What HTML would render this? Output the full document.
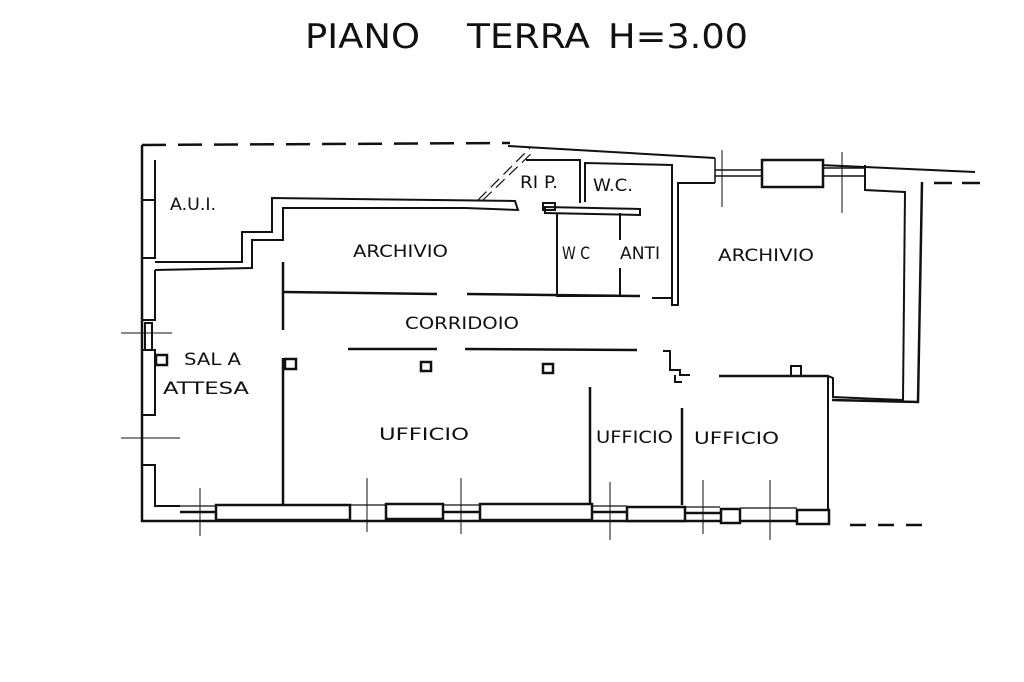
<!DOCTYPE html>
<html><head><meta charset="utf-8"><style>
html,body{margin:0;padding:0;background:#fff;width:1024px;height:682px;overflow:hidden}
svg{display:block}
text{font-family:"DejaVu Sans","Liberation Sans",sans-serif;fill:#111}
</style></head><body>
<svg width="1024" height="682" viewBox="0 0 1024 682" xmlns="http://www.w3.org/2000/svg">
<g font-size="34">
<text x="305" y="48" textLength="115" lengthAdjust="spacingAndGlyphs">PIANO</text>
<text x="467" y="48" textLength="123" lengthAdjust="spacingAndGlyphs">TERRA</text>
<text x="608" y="48" textLength="140" lengthAdjust="spacingAndGlyphs">H=3.00</text>
</g>
<g fill="none" stroke="#111" stroke-width="2">
<path d="M142 145 L510 143" stroke-dasharray="24 12" stroke-width="2.5"/>
<path d="M508 146 L715 158 M820 165 L975 172" stroke-width="2"/>
<path d="M934 183 L980 183" stroke-dasharray="18 10" stroke-width="2.5"/>
<path d="M850 525 L925 525" stroke-dasharray="16 12" stroke-width="2.5"/>
<!-- left outer wall -->
<path d="M142 145 L142 521 L830 521" stroke-width="2.5"/>
<path d="M155 160 L155 258 L142 258 M142 200 L155 200 M155 270 L155 320 L142 320 M142 350 L155 350 L155 415 L142 415 M142 465 L155 465 L155 506 L180 506"/>
<rect x="145" y="323" width="7" height="27" stroke-width="2"/>
<!-- AUI / archivio wall -->
<path d="M155 262 L242 262 L242 232 L272 232 L272 198 L515 201 L518 210 L465 208 L283 208 L283 240 L252 240 L252 268 L155 270"/>
<path d="M478 200 L530 148 M483 200 L535 150" stroke-width="1.2" stroke-dasharray="12 6"/>
<!-- bottom wall inner -->
<path d="M155 506 L215 506 M350 505 L385 505 M443 505 L480 505 M592 506 L627 506 M685 507 L720 507 M740 508 L797 508" stroke-width="1.2"/>
<path d="M283 505 L350 505 M592 505 L590 505" stroke-width="2"/>
<path d="M180 512 L215 512 M443 512 L480 512 M592 512 L627 512 M685 513 L720 513" stroke-width="2.5"/>
<rect x="216" y="505" width="134" height="15" stroke-width="2.5" fill="#fff"/>
<rect x="386" y="504" width="57" height="15" stroke-width="2.5" fill="#fff"/>
<rect x="480" y="504" width="112" height="16" stroke-width="2.5" fill="#fff"/>
<rect x="627" y="507" width="58" height="14" stroke-width="2.5" fill="#fff"/>
<rect x="721" y="509" width="19" height="14" stroke-width="2.5" fill="#fff"/>
<rect x="797" y="510" width="32" height="14" stroke-width="2.5" fill="#fff"/>
<path d="M200 488 L200 536 M367 478 L367 532 M461 478 L461 534 M610 482 L610 540 M703 480 L703 534 M770 480 L770 540 M121 333 L172 333 M121 438 L180 438 M722 150 L722 207 M842 152 L842 213" stroke-width="1"/>
<!-- partitions -->
<path d="M283 262 L283 330 M283 358 L283 505" stroke-width="2.5"/>
<path d="M284 292 L437 294 M467 294 L640 296" stroke-width="2.5"/>
<path d="M348 349 L437 349 M465 349 L637 350" stroke-width="2.5"/>
<rect x="285" y="359" width="11" height="10" stroke-width="2.5"/>
<rect x="156" y="355" width="11" height="10" stroke-width="2.5"/>
<rect x="421" y="362" width="10" height="9" stroke-width="2.5"/>
<rect x="543" y="364" width="10" height="9" stroke-width="2.5"/>
<!-- WC / RIP -->
<path d="M543 203 L555 203 L555 210 L543 210 Z"/>
<path d="M545 207 L640 209 L640 215 L545 213 Z" stroke-width="2"/>
<path d="M580 203 L580 160 L526 160 M585 202 L585 163 L672 165 L672 183"/>
<path d="M557 213 L557 296 L620 296 L620 268 M620 213 L620 240"/>
<path d="M652 298 L672 298 L672 305 L678 305 L678 183 L715 183 M672 183 L672 298"/>
<!-- top right windows -->
<path d="M715 158 L715 183 M715 170 L762 170 M715 176 L762 176 M823 168 L865 168 M823 176 L865 176" stroke-width="1.5"/>
<rect x="762" y="160" width="61" height="27" stroke-width="2.5" fill="#fff"/>
<path d="M865 165 L865 190 L905 192 L903 400 L833 397 L833 378 L828 376 L828 510"/>
<path d="M922 182 L918 402 L832 400" stroke-width="2.5"/>
<!-- lower right -->
<path d="M590 387 L590 505 M682 408 L682 505" stroke-width="2.5"/>
<path d="M719 376 L828 376" stroke-width="2.5"/>
<rect x="791" y="366" width="10" height="10" stroke-width="2"/>
<path d="M663 351 L670 351 L670 370 L680 370 L680 375 L690 375 M675 375 L675 382 L682 382" stroke-width="2"/>
</g>
<g font-size="17">
<text x="170" y="210" textLength="46" lengthAdjust="spacingAndGlyphs">A.U.I.</text>
<text x="353" y="257" textLength="95" lengthAdjust="spacingAndGlyphs">ARCHIVIO</text>
<text x="520" y="188" textLength="38" lengthAdjust="spacingAndGlyphs">RI P.</text>
<text x="593" y="191" textLength="40" lengthAdjust="spacingAndGlyphs">W.C.</text>
<text x="562" y="259" textLength="28" lengthAdjust="spacingAndGlyphs">W C</text>
<text x="620" y="259" textLength="40" lengthAdjust="spacingAndGlyphs">ANTI</text>
<text x="718" y="261" textLength="96" lengthAdjust="spacingAndGlyphs">ARCHIVIO</text>
<text x="405" y="329" textLength="114" lengthAdjust="spacingAndGlyphs">CORRIDOIO</text>
<text x="184" y="365" textLength="57" lengthAdjust="spacingAndGlyphs">SAL A</text>
<text x="163" y="394" textLength="86" lengthAdjust="spacingAndGlyphs">ATTESA</text>
<text x="379" y="440" textLength="90" lengthAdjust="spacingAndGlyphs">UFFICIO</text>
<text x="596" y="443" textLength="77" lengthAdjust="spacingAndGlyphs">UFFICIO</text>
<text x="694" y="444" textLength="85" lengthAdjust="spacingAndGlyphs">UFFICIO</text>
</g>
</svg>
</body></html>
